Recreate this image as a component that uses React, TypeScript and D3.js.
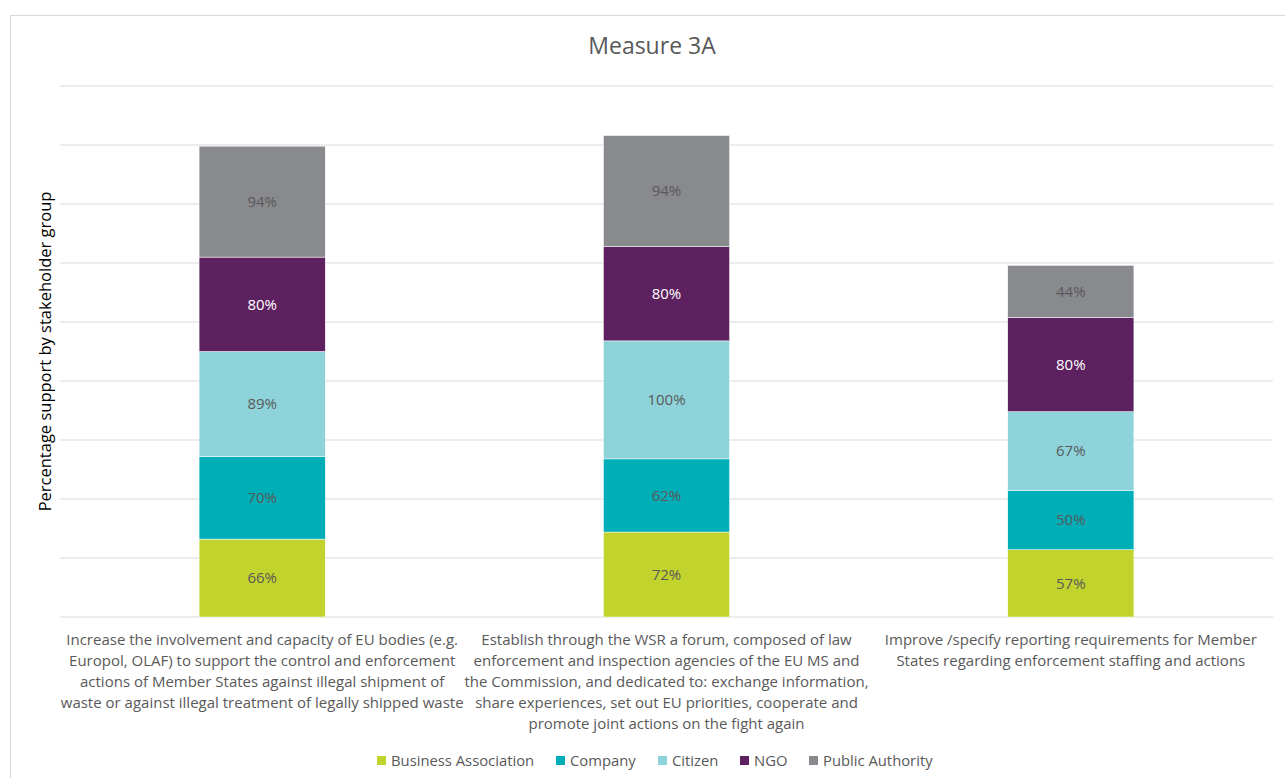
import React, { useRef, useEffect } from "react";
import * as d3 from "d3";

const categories = ["m1", "m2", "m3"];
const categoryLines = [
  [
    "Increase the involvement and capacity of EU bodies (e.g.",
    "Europol, OLAF) to support the control and enforcement",
    "actions of Member States against illegal shipment of",
    "waste or against illegal treatment of legally shipped waste",
  ],
  [
    "Establish through the WSR a forum, composed of law",
    "enforcement and inspection agencies of the EU MS and",
    "the Commission, and dedicated to: exchange information,",
    "share experiences, set out EU priorities, cooperate and",
    "promote joint actions on the fight again",
  ],
  [
    "Improve /specify reporting requirements for Member",
    "States regarding enforcement staffing and actions",
  ],
];
const groups = ["Business Association", "Company", "Citizen", "NGO", "Public Authority"];
const businessAssociation = [0.66, 0.72, 0.57];
const company = [0.7, 0.62, 0.5];
const citizen = [0.89, 1.0, 0.67];
const ngo = [0.8, 0.8, 0.8];
const publicAuthority = [0.94, 0.94, 0.44];
const colors = ["#c2d32e", "#00aeb7", "#8dd3d9", "#5e2160", "#898a8e"];
const labelColors = ["#595959", "#595959", "#595959", "#ffffff", "#595959"];
const yTicks = d3.range(0, 4.51, 0.5);

const W = 1285;
const H = 778;
const FONT = "'Open Sans', sans-serif";

function App() {
  const svgRef = useRef<SVGSVGElement>(null);
  useEffect(() => {
    let svg = d3.select(svgRef.current);
    svg.selectChildren().remove();

    const rows = categories.map((c, i) => ({
      cat: c,
      "Business Association": businessAssociation[i],
      Company: company[i],
      Citizen: citizen[i],
      NGO: ngo[i],
      "Public Authority": publicAuthority[i],
    }));
    const stacked = d3.stack<any>().keys(groups)(rows);

    const left = 60, right = 1273, top = 86, bottom = 617;
    const x = d3.scaleBand().domain(categories).range([left, right]).paddingInner(0.688).paddingOuter(0.344);
    const y = d3.scaleLinear().domain([0, 4.5]).range([bottom, top]);

    // frame
    svg.append("rect")
      .attr("x", 10.5).attr("y", 15.5)
      .attr("width", W).attr("height", H)
      .attr("fill", "#fff")
      .attr("stroke", "#d9d9d9");

    svg.append("text")
      .attr("x", 652).attr("y", 54)
      .attr("text-anchor", "middle")
      .attr("font-family", FONT).attr("font-size", 23)
      .attr("fill", "#595959")
      .text("Measure 3A");

    svg.append("g")
      .selectAll("line")
      .data(yTicks)
      .join("line")
      .attr("x1", left).attr("x2", right)
      .attr("y1", d => y(d)).attr("y2", d => y(d))
      .attr("stroke", "#d9d9d9").attr("stroke-width", 1);

    const layers = svg.append("g")
      .selectAll("g")
      .data(stacked)
      .join("g");

    layers.selectAll("rect")
      .data(s => s.map(d => ({ d, key: s.key })))
      .join("rect")
      .attr("x", (p: any) => x(p.d.data.cat)!)
      .attr("width", x.bandwidth())
      .attr("y", (p: any) => y(p.d[1]))
      .attr("height", (p: any) => y(p.d[0]) - y(p.d[1]))
      .attr("fill", (p: any) => colors[groups.indexOf(p.key)])
      .attr("stroke", "#fff").attr("stroke-width", 0.5);

    layers.selectAll("text")
      .data(s => s.map(d => ({ d, key: s.key })))
      .join("text")
      .attr("x", (p: any) => x(p.d.data.cat)! + x.bandwidth() / 2)
      .attr("y", (p: any) => (y(p.d[0]) + y(p.d[1])) / 2)
      .attr("dy", "0.35em")
      .attr("text-anchor", "middle")
      .attr("font-family", FONT).attr("font-size", 15)
      .attr("fill", (p: any) => labelColors[groups.indexOf(p.key)])
      .text((p: any) => Math.round((p.d[1] - p.d[0]) * 100) + "%");

    // category labels
    const cg = svg.append("g");
    categories.forEach((c, i) => {
      const t = cg.append("text")
        .attr("text-anchor", "middle")
        .attr("font-family", FONT).attr("font-size", 15)
        .attr("fill", "#595959");
      categoryLines[i].forEach((line, j) => {
        t.append("tspan")
          .attr("x", x(c)! + x.bandwidth() / 2)
          .attr("y", 645 + j * 21)
          .text(line);
      });
    });

    svg.append("text")
      .attr("transform", `translate(51,${(top + bottom) / 2}) rotate(-90)`)
      .attr("text-anchor", "middle")
      .attr("font-family", FONT).attr("font-size", 16.5)
      .attr("fill", "#000")
      .text("Percentage support by stakeholder group");

    // legend
    const legendX = [377, 556, 658, 740, 809];
    const lg = svg.append("g");
    groups.forEach((g, i) => {
      lg.append("rect")
        .attr("x", legendX[i]).attr("y", 756)
        .attr("width", 9).attr("height", 9)
        .attr("fill", colors[i]);
      lg.append("text")
        .attr("x", legendX[i] + 14).attr("y", 766)
        .attr("font-family", FONT).attr("font-size", 14.8)
        .attr("fill", "#595959")
        .text(g);
    });
  }, []);
  return (
    <React.Fragment>
      <svg ref={svgRef} width={W} height={H}
        style={{ position: "absolute", left: 0, top: 0, background: "#fff" }}></svg>
    </React.Fragment>
  );
}

export default App;
